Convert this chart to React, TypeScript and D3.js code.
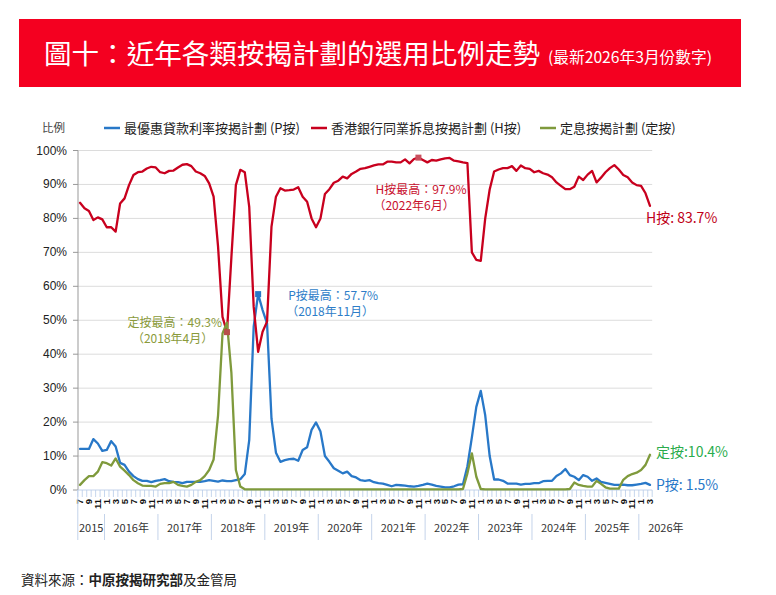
import * as d3 from 'd3';

const W = 776;
const H = 595;

// monthly categories: 2015-07 ... 2026-03
const months = d3.timeMonth.range(new Date(2015, 6, 1), new Date(2026, 3, 1));
const yearLabels = ['2015', '2016年', '2017年', '2018年', '2019年', '2020年', '2021年', '2022年', '2023年', '2024年', '2025年', '2026年'];
const yTicks = [0, 10, 20, 30, 40, 50, 60, 70, 80, 90, 100];

// 最優惠貸款利率按揭計劃 (P按), %
const pRate = [
  12.1, 12.1, 12.1, 15.0, 13.7, 11.5, 11.8, 14.4, 12.8, 8.0, 7.4, 5.4, 4.1, 3.2, 2.7, 2.7, 2.3, 2.7, 2.9, 3.2,
  2.6, 2.4, 2.3, 2.0, 2.4, 2.4, 2.4, 2.4, 2.6, 2.9, 2.7, 2.5, 2.8, 2.6, 2.6, 2.9, 3.2, 4.7, 14.7, 48.1,
  57.7, 53.0, 49.1, 21.0, 11.0, 8.3, 8.8, 9.1, 9.2, 8.6, 11.8, 12.6, 17.7, 19.9, 17.2, 10.0, 8.3, 6.4, 5.7, 4.9,
  5.4, 4.1, 3.7, 2.9, 2.7, 2.9, 2.3, 2.0, 1.9, 1.5, 1.1, 1.5, 1.4, 1.3, 1.1, 1.0, 1.2, 1.5, 1.9, 1.6,
  1.2, 1.0, 0.8, 0.8, 1.1, 1.6, 1.7, 7.0, 15.5, 24.5, 29.2, 22.0, 10.0, 3.1, 3.1, 2.7, 1.9, 1.9, 1.9, 1.6,
  1.8, 1.8, 2.0, 2.0, 2.6, 2.7, 2.7, 4.1, 4.9, 6.2, 4.4, 3.9, 2.9, 4.4, 3.9, 2.7, 3.4, 2.4, 2.1, 1.8,
  1.5, 1.5, 1.6, 1.4, 1.4, 1.6, 1.8, 2.1, 1.5,
];

// 香港銀行同業拆息按揭計劃 (H按), %
const hRate = [
  84.6, 83.0, 82.2, 79.5, 80.3, 79.7, 77.4, 77.4, 76.1, 84.4, 85.9, 89.8, 92.8, 93.6, 93.8, 94.7, 95.2, 95.0, 93.6, 93.3,
  94.0, 94.1, 95.0, 95.8, 96.0, 95.4, 93.8, 93.3, 92.5, 90.3, 86.4, 71.7, 51.0, 46.5, 68.7, 89.8, 94.3, 93.6, 83.4, 54.0,
  40.7, 46.6, 49.6, 77.6, 86.4, 88.9, 88.2, 88.3, 88.5, 89.2, 86.4, 84.9, 80.0, 77.4, 80.0, 87.2, 88.6, 90.5, 91.1, 92.3,
  91.8, 93.1, 93.8, 94.6, 94.8, 95.2, 95.6, 95.9, 95.9, 96.7, 96.7, 96.5, 96.5, 97.4, 96.2, 97.5, 97.9, 97.2, 96.5, 97.2,
  97.0, 97.4, 97.7, 97.8, 97.0, 96.8, 96.5, 96.3, 70.0, 67.8, 67.5, 80.0, 88.5, 93.8, 94.4, 94.8, 94.8, 95.4, 94.0, 95.6,
  94.8, 94.6, 93.6, 94.0, 93.3, 92.9, 92.1, 90.6, 89.6, 88.6, 88.6, 89.3, 92.3, 91.3, 92.9, 94.0, 90.6, 92.0, 93.6, 94.8,
  95.7, 94.4, 92.8, 92.1, 90.6, 89.8, 89.6, 87.4, 83.7,
];

// 定息按揭計劃 (定按), %
const fixedRate = [
  1.5, 2.9, 4.1, 4.1, 5.4, 8.2, 7.9, 7.2, 9.3, 6.9, 5.7, 4.4, 2.9, 2.0, 1.3, 1.2, 1.2, 1.0, 1.8, 2.0,
  2.0, 2.4, 1.5, 1.2, 1.0, 1.5, 2.4, 2.9, 4.1, 5.9, 9.0, 22.0, 46.1, 49.3, 34.4, 5.9, 1.0, 0.2, 0.2, 0.2,
  0.2, 0.2, 0.2, 0.2, 0.2, 0.2, 0.2, 0.2, 0.2, 0.2, 0.2, 0.2, 0.2, 0.2, 0.2, 0.2, 0.2, 0.2, 0.2, 0.2,
  0.2, 0.2, 0.2, 0.2, 0.2, 0.2, 0.2, 0.2, 0.2, 0.2, 0.2, 0.2, 0.2, 0.2, 0.2, 0.2, 0.2, 0.2, 0.2, 0.2,
  0.2, 0.2, 0.2, 0.2, 0.2, 0.2, 0.3, 4.9, 10.8, 3.9, 0.3, 0.2, 0.2, 0.2, 0.2, 0.2, 0.2, 0.2, 0.2, 0.2,
  0.2, 0.2, 0.2, 0.2, 0.2, 0.2, 0.2, 0.2, 0.2, 0.2, 0.3, 2.2, 1.5, 1.2, 1.0, 1.0, 2.7, 1.8, 0.8, 0.4,
  0.4, 0.4, 3.0, 4.1, 4.7, 5.1, 5.9, 7.4, 10.4,
];

const BLUE = '#2878c8';
const RED = '#c8001e';
const OLIVE = '#7f9a3c';

const series = [
  { key: 'p', label: '最優惠貸款利率按揭計劃 (P按)', values: pRate, color: BLUE },
  { key: 'h', label: '香港銀行同業拆息按揭計劃 (H按)', values: hRate, color: RED },
  { key: 'f', label: '定息按揭計劃 (定按)', values: fixedRate, color: OLIVE },
];

const CJK = '"Noto Sans CJK TC", "Noto Sans", sans-serif';
const LAT = '"Liberation Sans", Arial, "Noto Sans CJK TC", sans-serif';

export default function App() {
  const idx = d3.range(months.length);
  const x = d3.scaleBand<number>().domain(idx).range([77.8, 652.2]).padding(0);
  const bw = x.bandwidth();
  const cx = (i: number) => (x(i) as number) + bw / 2;
  const y = d3.scaleLinear().domain([0, 100]).range([490, 150.5]);

  const line = d3.line<number>().x((_, i) => cx(i)).y(d => y(d));

  // year groups
  const years = d3.groups(idx, i => months[i].getFullYear());
  const last = months.length - 1;

  const marks = [
    { i: 40, v: pRate[40], color: BLUE },
    { i: 76, v: hRate[76], color: '#c9505e' },
    { i: 33, v: hRate[33], color: '#b8504a' },
  ];

  const legendX = [104, 311, 540];

  return (
    <svg width={W} height={H} style={{ position: 'absolute', left: 0, top: 0, background: '#fff' }}>
      {/* title banner */}
      <rect x={19} y={19} width={722} height={68} fill="#f40020" />
      <text x={44} y={64} fill="#fff" fontFamily={CJK} fontSize={27} textLength={496} lengthAdjust="spacingAndGlyphs">
        圖十：近年各類按揭計劃的選用比例走勢
      </text>
      <text x={548} y={63} fill="#fff" fontFamily={CJK} fontSize={15.5} textLength={164} lengthAdjust="spacingAndGlyphs">
        (最新2026年3月份數字)
      </text>

      {/* legend */}
      <text x={42} y={132} fontFamily={CJK} fontSize={11.5} fill="#444">比例</text>
      {series.map((s, k) => (
        <g key={s.key}>
          <line x1={legendX[k]} x2={legendX[k] + 16} y1={128} y2={128} stroke={s.color} strokeWidth={2.5} />
          <text x={legendX[k] + 20} y={133} fontFamily={CJK} fontSize={13} fill="#222">{s.label}</text>
        </g>
      ))}

      {/* grid + y axis */}
      {yTicks.map(t => (
        <g key={t}>
          {t > 0 && <line x1={77.8} x2={652.2} y1={y(t)} y2={y(t)} stroke="#dcdcdc" strokeWidth={1} />}
          <line x1={73} x2={78} y1={y(t)} y2={y(t)} stroke="#999" />
          <text x={67} y={y(t) + 4} textAnchor="end" fontFamily={LAT} fontSize={12} fill="#222">{t}%</text>
        </g>
      ))}
      <line x1={78} x2={78} y1={150.5} y2={490} stroke="#999" />

      {/* x axis */}
      <line x1={77.8} x2={652.2} y1={490} y2={490} stroke="#c4d3ea" />
      {idx.map(i => (
        <line key={i} x1={x(i)} x2={x(i)} y1={490} y2={497} stroke="#b8cbe8" strokeWidth={0.8} />
      ))}
      <line x1={652.2} x2={652.2} y1={490} y2={497} stroke="#b8cbe8" strokeWidth={0.8} />
      {idx.filter(i => months[i].getMonth() % 2 === 0).map(i => (
        <text key={i} transform={`translate(${cx(i) + 3.3},499) rotate(-90)`} textAnchor="end"
          fontFamily={LAT} fontSize={9.5} fontWeight="bold" fill="#111">
          {months[i].getMonth() + 1}
        </text>
      ))}
      {years.map(([yr, ids], k) => {
        const x0 = x(ids[0]) as number;
        const x1 = (x(ids[ids.length - 1]) as number) + bw;
        const center = ids[ids.length - 1] === last ? x0 + 27 : (x0 + x1) / 2;
        return (
          <g key={yr}>
            <line x1={x0} x2={x0} y1={k === 0 ? 490 : 514} y2={540} stroke="#c4d3ea" />
            <text x={center} y={532} textAnchor="middle" fontFamily={CJK} fontSize={11} fill="#333">
              {yearLabels[k]}
            </text>
          </g>
        );
      })}

      {/* lines */}
      {series.map(s => (
        <path key={s.key} d={line(s.values) || ''} fill="none" stroke={s.color} strokeWidth={2.3}
          strokeLinejoin="round" strokeLinecap="round" />
      ))}

      {/* peak markers */}
      {marks.map((m, k) => (
        <rect key={k} x={cx(m.i) - 3} y={y(m.v) - 3} width={6} height={6} fill={m.color} />
      ))}

      {/* annotations */}
      <g fontFamily={CJK} fontSize={12}>
        <text x={cx(76) - 43} y={y(hRate[76]) + 36} fill="#c8102e">H按最高：97.9%</text>
        <text x={cx(76) - 45} y={y(hRate[76]) + 52} fill="#c8102e">（2022年6月）</text>
        <text x={cx(40) + 30} y={y(pRate[40]) + 6} fill="#2e7dc8">P按最高：57.7%</text>
        <text x={cx(40) + 28} y={y(pRate[40]) + 22} fill="#2e7dc8">（2018年11月）</text>
        <text x={cx(33) - 5} y={y(fixedRate[33]) + 4} textAnchor="end" fill="#8a9a3a">定按最高：49.3%</text>
        <text x={cx(33) - 95} y={y(fixedRate[33]) + 20} fill="#8a9a3a">（2018年4月）</text>
      </g>
      <g fontFamily={CJK} fontSize={14}>
        <text x={cx(last) - 4} y={y(hRate[last]) + 17} fill="#c00018">H按: 83.7%</text>
        <text x={cx(last) + 6} y={y(fixedRate[last]) + 2} fill="#2aac4c">定按:10.4%</text>
        <text x={cx(last) + 6} y={y(pRate[last]) + 5} fill="#2878c8">P按: 1.5%</text>
      </g>

      {/* source */}
      <text x={21} y={585} fontFamily={CJK} fontSize={13.5} fill="#222">
        資料來源：<tspan fontWeight="bold">中原按揭研究部</tspan>及金管局
      </text>
    </svg>
  );
}
